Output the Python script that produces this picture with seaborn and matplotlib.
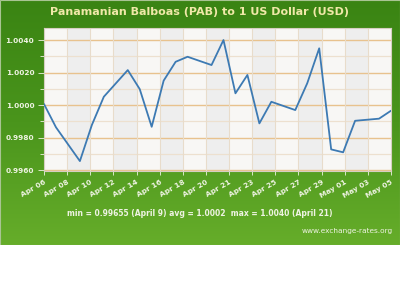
import numpy as np
import pandas as pd
import matplotlib
matplotlib.use("Agg")
import matplotlib.pyplot as plt
import seaborn as sns
from matplotlib.ticker import MultipleLocator

# ---- data ----
dates = ["2009-04-06", "2009-04-07", "2009-04-09", "2009-04-10", "2009-04-11",
         "2009-04-13", "2009-04-14", "2009-04-15", "2009-04-16", "2009-04-17",
         "2009-04-18", "2009-04-20", "2009-04-21", "2009-04-22", "2009-04-23",
         "2009-04-24", "2009-04-25", "2009-04-27", "2009-04-28", "2009-04-29",
         "2009-04-30", "2009-05-01", "2009-05-02", "2009-05-04", "2009-05-05"]
rates = [1.00006, 0.99863, 0.99655, 0.99877, 1.00051,
         1.00215, 1.00098, 0.99866, 1.00150, 1.00266,
         1.00297, 1.00246, 1.00400, 1.00072, 1.00185,
         0.99887, 1.00020, 0.99969, 1.00134, 1.00349,
         0.99727, 0.99709, 0.99903, 0.99916, 0.99965]
tick_labels = ["Apr 06", "Apr 08", "Apr 10", "Apr 12", "Apr 14", "Apr 16",
               "Apr 18", "Apr 20", "Apr 21", "Apr 23", "Apr 25", "Apr 27",
               "Apr 29", "May 01", "May 03", "May 05"]
y_ticks = [0.9960, 0.9980, 1.0000, 1.0020, 1.0040]
title = "Panamanian Balboas (PAB) to 1 US Dollar (USD)"
stats = "min = 0.99655 (April 9) avg = 1.0002  max = 1.0040 (April 21)"
source = "www.exchange-rates.org"

d = pd.to_datetime(pd.Series(dates))
df = pd.DataFrame({"day": (d - d.iloc[0]).dt.days, "rate": rates})
span = df["day"].max()

sns.set_theme(style="white")
plt.rcParams["font.family"] = ["DejaVu Sans"]

fig = plt.figure(figsize=(4, 3), dpi=100)
fig.patch.set_facecolor("white")

# green gradient background panel
bg = fig.add_axes([0, 1 - 245 / 300, 1, 245 / 300])
bg.set_axis_off()
grad = np.linspace(0, 1, 256).reshape(-1, 1)
cmap = matplotlib.colors.LinearSegmentedColormap.from_list(
    "g", ["#3a8413", "#4a951c", "#66ad2a"])
bg.imshow(grad, aspect="auto", cmap=cmap, extent=[0, 1, 0, 1], origin="upper")
bg.set_xlim(0, 1)
bg.set_ylim(0, 1)
bg.add_patch(plt.Rectangle((0, 0), 1, 1, fill=False, ec="#a9c493", lw=0.8,
                           transform=bg.transAxes))

ax = fig.add_axes([44 / 400, 1 - 171 / 300, 347 / 400, 143 / 300])
ax.set_facecolor("#f6f5f3")

tick_pos = np.linspace(0, span, len(tick_labels))
for i in range(len(tick_pos) - 1):
    col = "#f8f7f5" if i % 2 == 0 else "#eeeeee"
    ax.axvspan(tick_pos[i], tick_pos[i + 1], color=col, lw=0, zorder=0)

ax.set_xlim(0, span)
ax.set_ylim(0.99594, 1.00474)
ax.yaxis.set_major_locator(MultipleLocator(0.002))
ax.yaxis.set_minor_locator(MultipleLocator(0.001))
ax.set_yticks(y_ticks)
ax.set_yticklabels([f"{v:.4f}" for v in y_ticks])
ax.set_xticks(tick_pos)
ax.set_xticklabels(tick_labels, rotation=30, ha="right", rotation_mode="anchor")

ax.grid(False)
for v in np.arange(0.9960, 1.0047, 0.001):
    major = abs(round(v / 0.002) * 0.002 - v) < 1e-6
    ax.axhline(v, color="#e8c28e" if major else "#ede0cf",
               lw=1.0 if major else 0.9, zorder=1)
for xp in tick_pos[1:-1]:
    ax.axvline(xp, color="#e8dccb", lw=0.8, zorder=1)

sns.lineplot(data=df, x="day", y="rate", ax=ax, color="#3d7ab3", lw=1.3,
             zorder=3)
ax.set_xlabel("")
ax.set_ylabel("")

for s in ax.spines.values():
    s.set_color("#d6cfc2")
    s.set_linewidth(0.8)

ax.tick_params(axis="both", which="both", direction="out", colors="#eef3e2",
               labelsize=5.3, left=True, bottom=True)
ax.tick_params(axis="y", which="major", length=4, width=0.6, pad=3)
ax.tick_params(axis="y", which="minor", length=3, width=0.6)
ax.tick_params(axis="x", which="major", length=3, width=0.6, pad=3)
for lab in ax.get_xticklabels() + ax.get_yticklabels():
    lab.set_fontweight("bold")
    lab.set_color("#eef3e2")

fig.text(0.5, 1 - 12 / 300, title, ha="center", va="center",
         fontsize=8.0, fontweight="bold", color="#f0e8a8")
fig.text(0.5, 1 - 214 / 300, stats, ha="center", va="center",
         fontsize=5.5, fontweight="bold", color="#eef3e2")
fig.text(393 / 400, 1 - 231 / 300, source, ha="right", va="center",
         fontsize=5.3, color="#eef3e2")

fig.savefig("out.png", dpi=100)
